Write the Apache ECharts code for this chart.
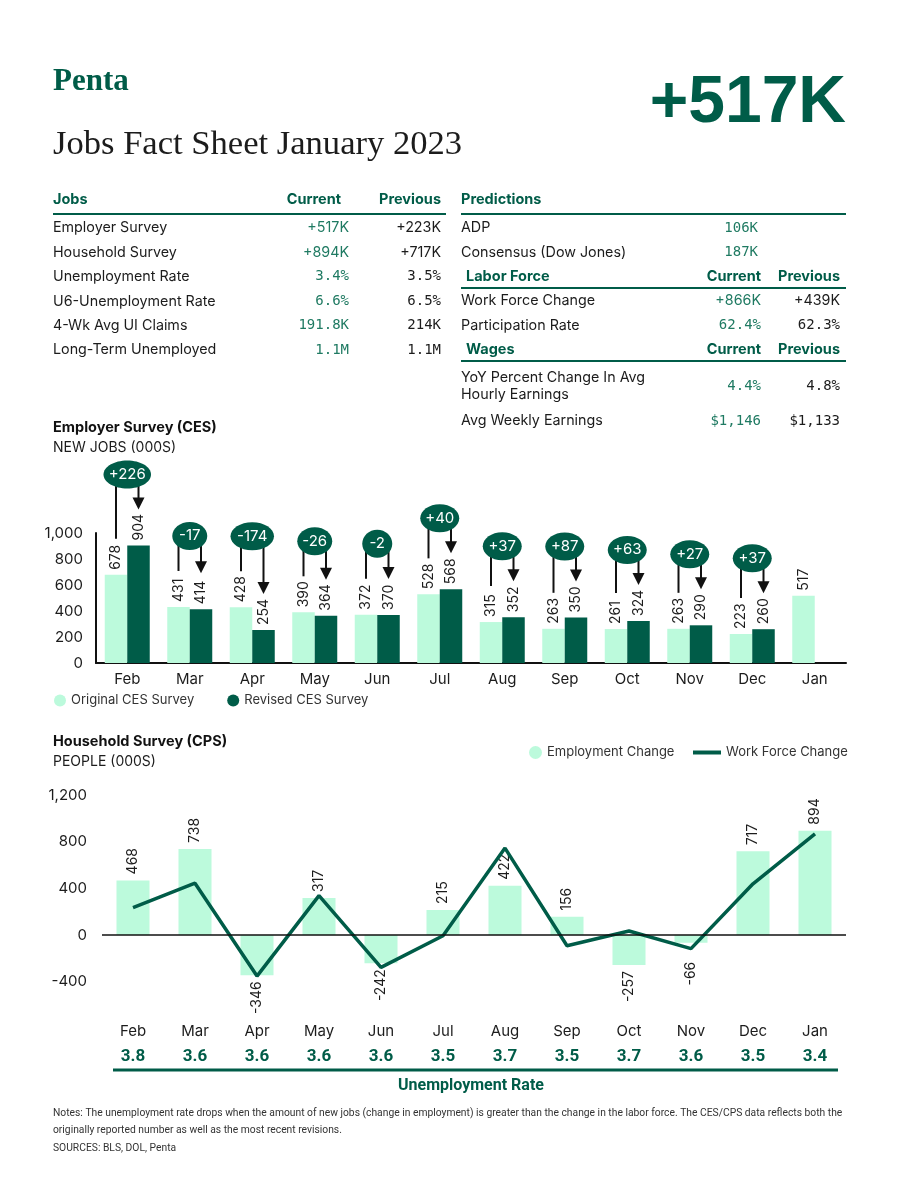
<!DOCTYPE html>
<html>
<head>
<meta charset="utf-8">
<title>Jobs Fact Sheet January 2023</title>
<script src="https://cdn.jsdelivr.net/npm/echarts@6.0.0/dist/echarts.min.js"></script>
<style>
  html, body { margin: 0; padding: 0; background: #fff; }
  #main { width: 900px; height: 1200px; }
</style>
</head>
<body>
<div id="main"></div>
<script>
// months shared by both charts
var months = ['Feb', 'Mar', 'Apr', 'May', 'Jun', 'Jul', 'Aug', 'Sep', 'Oct', 'Nov', 'Dec', 'Jan'];

// employer survey (CES), thousands
var cesOriginal = [678, 431, 428, 390, 372, 528, 315, 263, 261, 263, 223, 517];
var cesRevised = [904, 414, 254, 364, 370, 568, 352, 350, 324, 290, 260, null];
var cesTicks = [0, 200, 400, 600, 800, 1000];

// household survey (CPS), thousands
var cpsEmployment = [468, 738, -346, 317, -242, 215, 422, 156, -257, -66, 717, 894];
var cpsWorkForce = [234, 444, -352, 337, -277, -6, 745, -92, 34, -117, 439, 866];
var cpsTicks = [-400, 0, 400, 800, 1200];
var unemploymentRate = ['3.8', '3.6', '3.6', '3.6', '3.6', '3.5', '3.7', '3.5', '3.7', '3.6', '3.5', '3.4'];

// fact tables
var jobsRows = ['Employer Survey', 'Household Survey', 'Unemployment Rate', 'U6-Unemployment Rate', '4-Wk Avg UI Claims', 'Long-Term Unemployed'];
var jobsCurrent = ['+517K', '+894K', '3.4%', '6.6%', '191.8K', '1.1M'];
var jobsPrevious = ['+223K', '+717K', '3.5%', '6.5%', '214K', '1.1M'];
var predRows = ['ADP', 'Consensus (Dow Jones)'];
var predCurrent = ['106K', '187K'];
var laborRows = ['Work Force Change', 'Participation Rate'];
var laborCurrent = ['+866K', '62.4%'];
var laborPrevious = ['+439K', '62.3%'];
var wageRows = ['YoY Percent Change In Avg\nHourly Earnings', 'Avg Weekly Earnings'];
var wageCurrent = ['4.4%', '$1,146'];
var wagePrevious = ['4.8%', '$1,133'];

var GREEN = '#005c48';
var VALUE_GREEN = '#1f7a62';
var MINT = '#bcfadc';
var INK = '#1c1c1c';
var SANS = 'Inter';
var MONO = '"DejaVu Sans Mono"';
var BAR_W = 22.5;

function txt(x, y, s, font, fill, align) {
  return {
    type: 'text', x: x, y: y, silent: true,
    style: { text: s, font: font, fill: fill || INK, align: align || 'left', verticalAlign: 'middle', lineHeight: 17 }
  };
}
function rule(x1, x2, y, w, color) {
  return {
    type: 'line', silent: true,
    shape: { x1: x1, y1: y, x2: x2, y2: y },
    style: { stroke: color || GREEN, lineWidth: w || 2 }
  };
}
function valueFont(v) {
  // signed counts are set in the sans face, the rest in mono
  return v.charAt(0) === '+' ? '14.3px ' + SANS : '14px ' + MONO;
}
function fmt(v) {
  return Number(v).toLocaleString('en-US');
}

var HEAD = 'bold 14.5px ' + SANS;
var BODY = '14.3px ' + SANS;
var graphics = [];

// header
graphics.push(txt(53, 82, 'Penta', 'bold 31px "Liberation Serif"', GREEN));
graphics.push(txt(53, 145, 'Jobs Fact Sheet January 2023', '34.6px "Liberation Serif"', INK));
graphics.push(txt(846, 104, '+517K', 'bold 66px "Liberation Sans"', GREEN, 'right'));

// jobs table
graphics.push(txt(53, 200, 'Jobs', HEAD, GREEN));
graphics.push(txt(341, 200, 'Current', HEAD, GREEN, 'right'));
graphics.push(txt(441, 200, 'Previous', HEAD, GREEN, 'right'));
graphics.push(rule(53, 446, 214));
jobsRows.forEach(function (name, i) {
  var y = 228 + i * 24.4;
  graphics.push(txt(53, y, name, BODY));
  graphics.push(txt(349, y, jobsCurrent[i], valueFont(jobsCurrent[i]), VALUE_GREEN, 'right'));
  graphics.push(txt(441, y, jobsPrevious[i], valueFont(jobsPrevious[i]), INK, 'right'));
});

// predictions / labor force / wages
graphics.push(txt(461, 200, 'Predictions', HEAD, GREEN));
graphics.push(rule(461, 846, 214));
predRows.forEach(function (name, i) {
  var y = 228 + i * 24.4;
  graphics.push(txt(461, y, name, BODY));
  graphics.push(txt(758, y, predCurrent[i], valueFont(predCurrent[i]), VALUE_GREEN, 'right'));
});
graphics.push(txt(466, 277, 'Labor Force', HEAD, GREEN));
graphics.push(txt(761, 277, 'Current', HEAD, GREEN, 'right'));
graphics.push(txt(840, 277, 'Previous', HEAD, GREEN, 'right'));
graphics.push(rule(461, 846, 288));
laborRows.forEach(function (name, i) {
  var y = 301 + i * 24.4;
  graphics.push(txt(461, y, name, BODY));
  graphics.push(txt(761, y, laborCurrent[i], valueFont(laborCurrent[i]), VALUE_GREEN, 'right'));
  graphics.push(txt(840, y, laborPrevious[i], valueFont(laborPrevious[i]), INK, 'right'));
});
graphics.push(txt(466, 350, 'Wages', HEAD, GREEN));
graphics.push(txt(761, 350, 'Current', HEAD, GREEN, 'right'));
graphics.push(txt(840, 350, 'Previous', HEAD, GREEN, 'right'));
graphics.push(rule(461, 846, 361));
wageRows.forEach(function (name, i) {
  var y = i === 0 ? 386 : 421;
  graphics.push(txt(461, y, name, BODY));
  graphics.push(txt(761, y, wageCurrent[i], valueFont(wageCurrent[i]), VALUE_GREEN, 'right'));
  graphics.push(txt(840, y, wagePrevious[i], valueFont(wagePrevious[i]), INK, 'right'));
});

// chart titles
graphics.push(txt(53, 428, 'Employer Survey (CES)', 'bold 14.5px ' + SANS, '#111'));
graphics.push(txt(53, 448, 'NEW JOBS (000S)', '14px ' + SANS, INK));
graphics.push(txt(53, 742, 'Household Survey (CPS)', 'bold 14.5px ' + SANS, '#111'));
graphics.push(txt(53, 762, 'PEOPLE (000S)', '14px ' + SANS, INK));

// unemployment rate footer
graphics.push(rule(113, 838, 1070, 3));
graphics.push(txt(471, 1086, 'Unemployment Rate', 'bold 16px Roboto', GREEN, 'center'));

// notes
graphics.push(txt(53, 1113, 'Notes: The unemployment rate drops when the amount of new jobs (change in employment) is greater than the change in the labor force. The CES/CPS data reflects both the', '10.3px Roboto', '#333'));
graphics.push(txt(53, 1130, 'originally reported number as well as the most recent revisions.', '10.3px Roboto', '#333'));
graphics.push(txt(53, 1148, 'SOURCES: BLS, DOL, Penta', '10.3px Roboto', '#333'));

// revision bubbles + arrows above each CES pair
function renderRevision(params, api) {
  var i = api.value(0);
  var o = api.value(1);
  var r = api.value(2);
  var pO = api.coord([i, o]);
  var pR = api.coord([i, r]);
  var xO = pO[0] - BAR_W / 2;
  var xR = pO[0] + BAR_W / 2;
  var topO = pO[1] - 28;
  var topR = pR[1] - 28;
  var cy = Math.min(topO, topR) - 43;
  var diff = r - o;
  var s = (diff > 0 ? '+' : '') + diff;
  var digits = String(Math.abs(diff)).length;
  var rx = Math.max(15, 7 + 4.25 * digits + (diff > 0 ? 4 : 2));
  var tip = topR - 8;
  return {
    type: 'group',
    children: [
      { type: 'line', shape: { x1: xO, y1: cy, x2: xO, y2: topO - 8 }, style: { stroke: '#111', lineWidth: 2 } },
      { type: 'line', shape: { x1: xR, y1: cy, x2: xR, y2: tip - 11 }, style: { stroke: '#111', lineWidth: 2 } },
      { type: 'polygon', shape: { points: [[xR - 6, tip - 12], [xR + 6, tip - 12], [xR, tip]] }, style: { fill: '#111' } },
      { type: 'ellipse', shape: { cx: pO[0], cy: cy, rx: rx, ry: 14 }, style: { fill: GREEN } },
      { type: 'text', style: { text: s, x: pO[0], y: cy, font: '15px ' + SANS, fill: '#fff', align: 'center', verticalAlign: 'middle' } }
    ]
  };
}

var revisionData = [];
months.forEach(function (m, i) {
  if (cesRevised[i] != null) revisionData.push([i, cesOriginal[i], cesRevised[i]]);
});

var barLabel = {
  show: true, position: 'top', rotate: 90, align: 'left', verticalAlign: 'middle',
  distance: 5, color: INK, fontFamily: SANS, fontSize: 14
};

var employmentData = cpsEmployment.map(function (v, i) {
  if (v >= 0) return v;
  var lbl = { position: 'bottom', align: 'right' };
  // push the label clear of the work force line where it dips well under a short bar
  var under = v - cpsWorkForce[i];
  if (under > 40 && under < 80) lbl.distance = 19;
  return { value: v, label: lbl };
});

var legendText = { fontSize: 13, color: '#333', fontFamily: SANS };

var option = {
  animation: false,
  backgroundColor: '#fff',
  textStyle: { fontFamily: SANS },
  graphic: { elements: graphics },
  grid: [
    { left: 96, right: 54, top: 533, height: 130 },
    { left: 102, right: 54, top: 795, height: 186.67 }
  ],
  legend: [
    {
      data: ['Original CES Survey', 'Revised CES Survey'],
      left: 54, top: 694, padding: 0, icon: 'circle', itemWidth: 12, itemHeight: 12, itemGap: 33,
      textStyle: legendText, selectedMode: false
    },
    {
      data: ['Employment Change'],
      left: 529, top: 746, padding: 0, icon: 'circle', itemWidth: 13, itemHeight: 13,
      textStyle: legendText, selectedMode: false
    },
    {
      data: ['Work Force Change'],
      left: 693, top: 746, padding: 0, icon: 'rect', itemWidth: 28, itemHeight: 4,
      textStyle: legendText, selectedMode: false
    }
  ],
  xAxis: [
    {
      type: 'category', gridIndex: 0, data: months,
      axisLine: { lineStyle: { color: '#111', width: 2 } },
      axisTick: { show: false },
      axisLabel: { margin: 9, fontSize: 15, color: INK }
    },
    {
      type: 'category', gridIndex: 1, data: months, position: 'bottom',
      axisLine: { show: false }, axisTick: { show: false },
      axisLabel: { margin: 42, fontSize: 15, color: INK }
    },
    {
      type: 'category', gridIndex: 1, data: months, position: 'bottom',
      axisLine: { show: false }, axisTick: { show: false },
      axisLabel: {
        margin: 67, fontSize: 17, fontWeight: 'bold', fontFamily: 'Roboto', color: GREEN,
        formatter: function (v, idx) { return unemploymentRate[idx]; }
      }
    }
  ],
  yAxis: [
    {
      type: 'value', gridIndex: 0,
      min: cesTicks[0], max: cesTicks[cesTicks.length - 1], interval: cesTicks[1] - cesTicks[0],
      axisLine: { show: true, lineStyle: { color: '#111', width: 2 } },
      axisTick: { show: false }, splitLine: { show: false },
      axisLabel: { margin: 13, fontSize: 15, color: INK, formatter: fmt }
    },
    {
      type: 'value', gridIndex: 1,
      min: cpsTicks[0], max: cpsTicks[cpsTicks.length - 1], interval: cpsTicks[1] - cpsTicks[0],
      axisLine: { show: false }, axisTick: { show: false }, splitLine: { show: false },
      axisLabel: { margin: 15, fontSize: 15, color: INK, formatter: fmt }
    }
  ],
  series: [
    {
      name: 'Original CES Survey', type: 'bar', xAxisIndex: 0, yAxisIndex: 0,
      data: cesOriginal, barWidth: BAR_W, barGap: '0%',
      itemStyle: { color: MINT }, label: barLabel
    },
    {
      name: 'Revised CES Survey', type: 'bar', xAxisIndex: 0, yAxisIndex: 0,
      data: cesRevised, barWidth: BAR_W, barGap: '0%',
      itemStyle: { color: GREEN }, label: barLabel
    },
    {
      name: 'Revisions', type: 'custom', xAxisIndex: 0, yAxisIndex: 0,
      data: revisionData, encode: { x: 0, y: 1 }, renderItem: renderRevision,
      silent: true, z: 5
    },
    {
      name: 'Employment Change', type: 'bar', xAxisIndex: 1, yAxisIndex: 1,
      data: employmentData, barWidth: 33,
      itemStyle: { color: MINT },
      label: Object.assign({}, barLabel, { distance: 6, textBorderColor: '#fff', textBorderWidth: 3 }),
      markLine: {
        silent: true, symbol: 'none', label: { show: false },
        lineStyle: { color: '#111', width: 1.5, type: 'solid' },
        data: [{ yAxis: 0 }]
      }
    },
    {
      name: 'Work Force Change', type: 'line', xAxisIndex: 1, yAxisIndex: 1,
      data: cpsWorkForce, symbol: 'none', z: 3,
      itemStyle: { color: GREEN },
      lineStyle: { color: GREEN, width: 3.5 }
    }
  ]
};

var myChart = echarts.init(document.getElementById('main'));
myChart.setOption(option);
</script>
</body>
</html>
